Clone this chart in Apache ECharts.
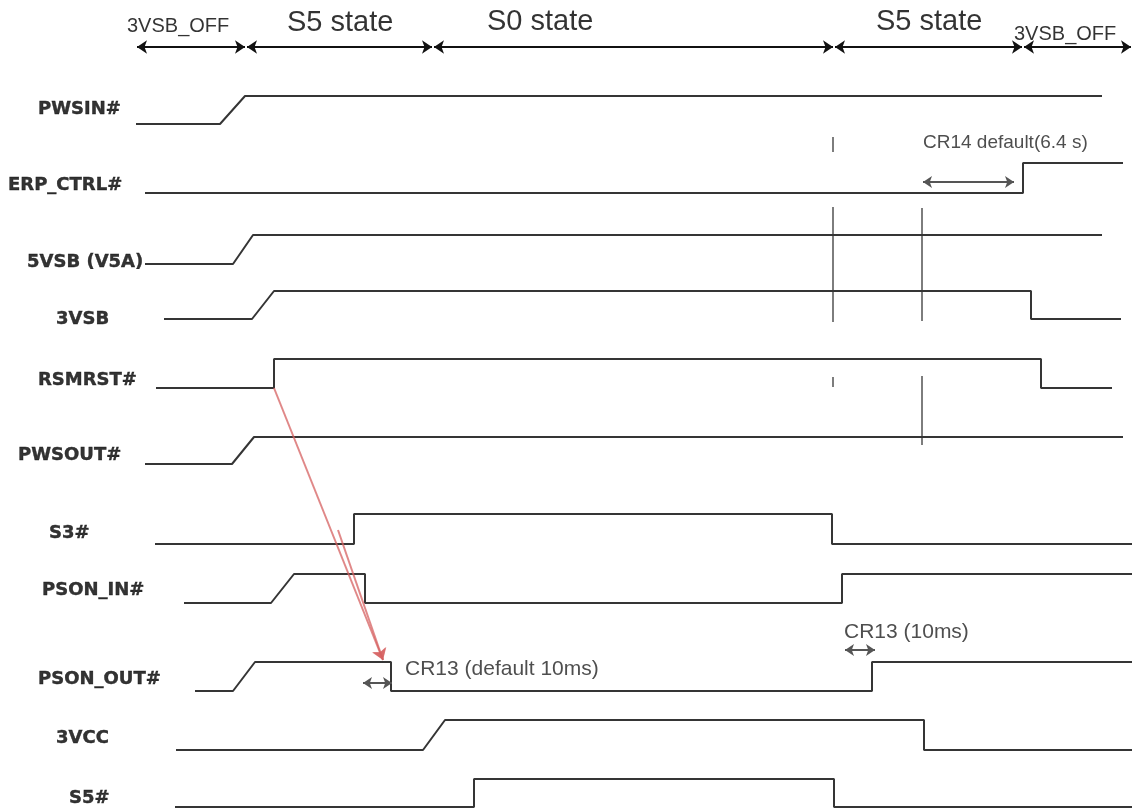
<!DOCTYPE html>
<html>
<head>
<meta charset="utf-8">
<script src="https://cdn.jsdelivr.net/npm/echarts@6/dist/echarts.min.js"></script>
<style>
  html, body { margin: 0; padding: 0; background: #fff; }
  #timing { width: 1135px; height: 812px; }
</style>
</head>
<body>
<div id="timing"></div>
<script>
// signal rows, top to bottom
var signalNames = ["PWSIN#", "ERP_CTRL#", "5VSB (V5A)", "3VSB", "RSMRST#", "PWSOUT#",
  "S3#", "PSON_IN#", "PSON_OUT#", "3VCC", "S5#"];
// low / high level of each row on the vertical scale
var rowLow = [124, 193, 264, 319, 388, 464, 544, 603, 691, 750, 807];
var rowHigh = [96, 163, 235, 291, 359, 437, 514, 574, 662, 720, 779];
// label anchors (left, middle)
var labelX = [38, 8, 27, 56, 38, 18, 49, 42, 38, 56, 69];
var labelY = [109, 185, 262, 319, 380, 455, 533, 590, 679, 738, 798];

// waveforms: [time, level]  0 = low, 1 = high
var wavePWSIN = [[136, 0], [220, 0], [245, 1], [1102, 1]];
var waveERP = [[145, 0], [1023, 0], [1023, 1], [1123, 1]];
var wave5VSB = [[145, 0], [233, 0], [253, 1], [1102, 1]];
var wave3VSB = [[164, 0], [252, 0], [274, 1], [1031, 1], [1031, 0], [1121, 0]];
var waveRSMRST = [[156, 0], [274, 0], [274, 1], [1041, 1], [1041, 0], [1112, 0]];
var wavePWSOUT = [[145, 0], [232, 0], [254, 1], [1123, 1]];
var waveS3 = [[155, 0], [354, 0], [354, 1], [832, 1], [832, 0], [1132, 0]];
var wavePSONIN = [[184, 0], [271, 0], [294, 1], [365, 1], [365, 0], [842, 0], [842, 1], [1132, 1]];
var wavePSONOUT = [[195, 0], [233, 0], [255, 1], [391, 1], [391, 0], [872, 0], [872, 1], [1132, 1]];
var wave3VCC = [[176, 0], [423, 0], [445, 1], [924, 1], [924, 0], [1132, 0]];
var waveS5 = [[175, 0], [474, 0], [474, 1], [834, 1], [834, 0], [1132, 0]];
var waves = [wavePWSIN, waveERP, wave5VSB, wave3VSB, waveRSMRST, wavePWSOUT,
  waveS3, wavePSONIN, wavePSONOUT, wave3VCC, waveS5];

// power state phases along the top
var phaseBounds = [136, 246, 433, 834, 1023, 1132];
var phaseNames = ["3VSB_OFF", "S5 state", "S0 state", "S5 state", "3VSB_OFF"];
var phaseLabelX = [127, 287, 487, 876, 1014];
var phaseLabelY = [26, 23, 22, 22, 34];
var phaseRow = 47;

// reference marker lines: [time, from, to]
var markers = [[833, 137, 152], [833, 207, 322], [833, 377, 387], [922, 208, 321], [922, 376, 445]];

// delay annotations
var delayNames = ["CR14 default(6.4 s)", "CR13 (default 10ms)", "CR13 (10ms)"];
var delayLabelX = [923, 405, 844];
var delayLabelY = [143, 669, 632];
var delaySpans = [[923, 1014, 182], [363, 392, 683], [845, 875, 650]];

// red cause -> effect arrows: [x0, y0, x1, y1]
var causeArrows = [[274, 388, 383, 660], [338, 530, 383, 660]];

var chart = echarts.init(document.getElementById("timing"));

var series = [];

waves.forEach(function (w, i) {
  series.push({
    name: signalNames[i],
    type: "line",
    data: w.map(function (p) { return [p[0], p[1] ? rowHigh[i] : rowLow[i]]; }),
    symbol: "none",
    lineStyle: { color: "#353535", width: 2 },
    silent: true,
    z: 3
  });
});

markers.forEach(function (m) {
  series.push({
    type: "line",
    data: [[m[0], m[1]], [m[0], m[2]]],
    symbol: "none",
    lineStyle: { color: "#7d7d7d", width: 2 },
    silent: true,
    z: 2
  });
});

// labels of the rows
series.push({
  type: "scatter",
  symbolSize: 0,
  silent: true,
  data: signalNames.map(function (n, i) { return [labelX[i], labelY[i], n]; }),
  label: {
    show: true,
    position: "right",
    distance: 0,
    formatter: function (p) { return p.data[2]; },
    fontFamily: "DejaVu Sans",
    fontWeight: "bold",
    fontSize: 18,
    color: "#000",
    textBorderColor: "#000",
    textBorderWidth: 0.4
  }
});

// phase labels + phase arrows
series.push({
  type: "scatter",
  symbolSize: 0,
  silent: true,
  data: phaseNames.map(function (n, i) {
    var small = n === "3VSB_OFF";
    return {
      value: [phaseLabelX[i], phaseLabelY[i], n],
      label: { fontSize: small ? 20 : 29 }
    };
  }),
  label: {
    show: true,
    position: "right",
    distance: 0,
    formatter: function (p) { return p.value[2]; },
    fontFamily: "Liberation Sans",
    color: "#000"
  },
  markLine: {
    silent: true,
    symbol: ["arrow", "arrow"],
    symbolSize: 10,
    label: { show: false },
    lineStyle: { color: "#111", width: 2, type: "solid" },
    data: phaseNames.map(function (n, i) {
      return [{ coord: [phaseBounds[i] + 1, phaseRow] }, { coord: [phaseBounds[i + 1] - 1, phaseRow] }];
    })
  }
});

// delay texts + delay arrows
series.push({
  type: "scatter",
  symbolSize: 0,
  silent: true,
  data: delayNames.map(function (n, i) {
    return { value: [delayLabelX[i], delayLabelY[i], n], label: { fontSize: i === 0 ? 19 : 21 } };
  }),
  label: {
    show: true,
    position: "right",
    distance: 0,
    formatter: function (p) { return p.value[2]; },
    fontFamily: "Liberation Sans",
    color: "#222"
  },
  markLine: {
    silent: true,
    symbol: ["arrow", "arrow"],
    symbolSize: 9,
    label: { show: false },
    lineStyle: { color: "#555", width: 2, type: "solid" },
    data: delaySpans.map(function (d) {
      return [{ coord: [d[0], d[2]] }, { coord: [d[1], d[2]] }];
    })
  }
});

// red arrows
series.push({
  type: "line",
  data: [],
  silent: true,
  z: 5,
  markLine: {
    silent: true,
    symbol: ["none", "arrow"],
    symbolSize: 11,
    label: { show: false },
    lineStyle: { color: "rgba(214, 96, 96, 0.75)", width: 2, type: "solid" },
    data: causeArrows.map(function (a) {
      return [{ coord: [a[0], a[1]] }, { coord: [a[2], a[3]] }];
    })
  }
});

var option = {
  animation: false,
  backgroundColor: "#ffffff",
  grid: { left: 0, right: 0, top: 0, bottom: 0 },
  xAxis: { type: "value", min: 0, max: 1135, show: false },
  yAxis: { type: "value", min: 0, max: 812, inverse: true, show: false },
  series: series
};

chart.setOption(option);
</script>
</body>
</html>
